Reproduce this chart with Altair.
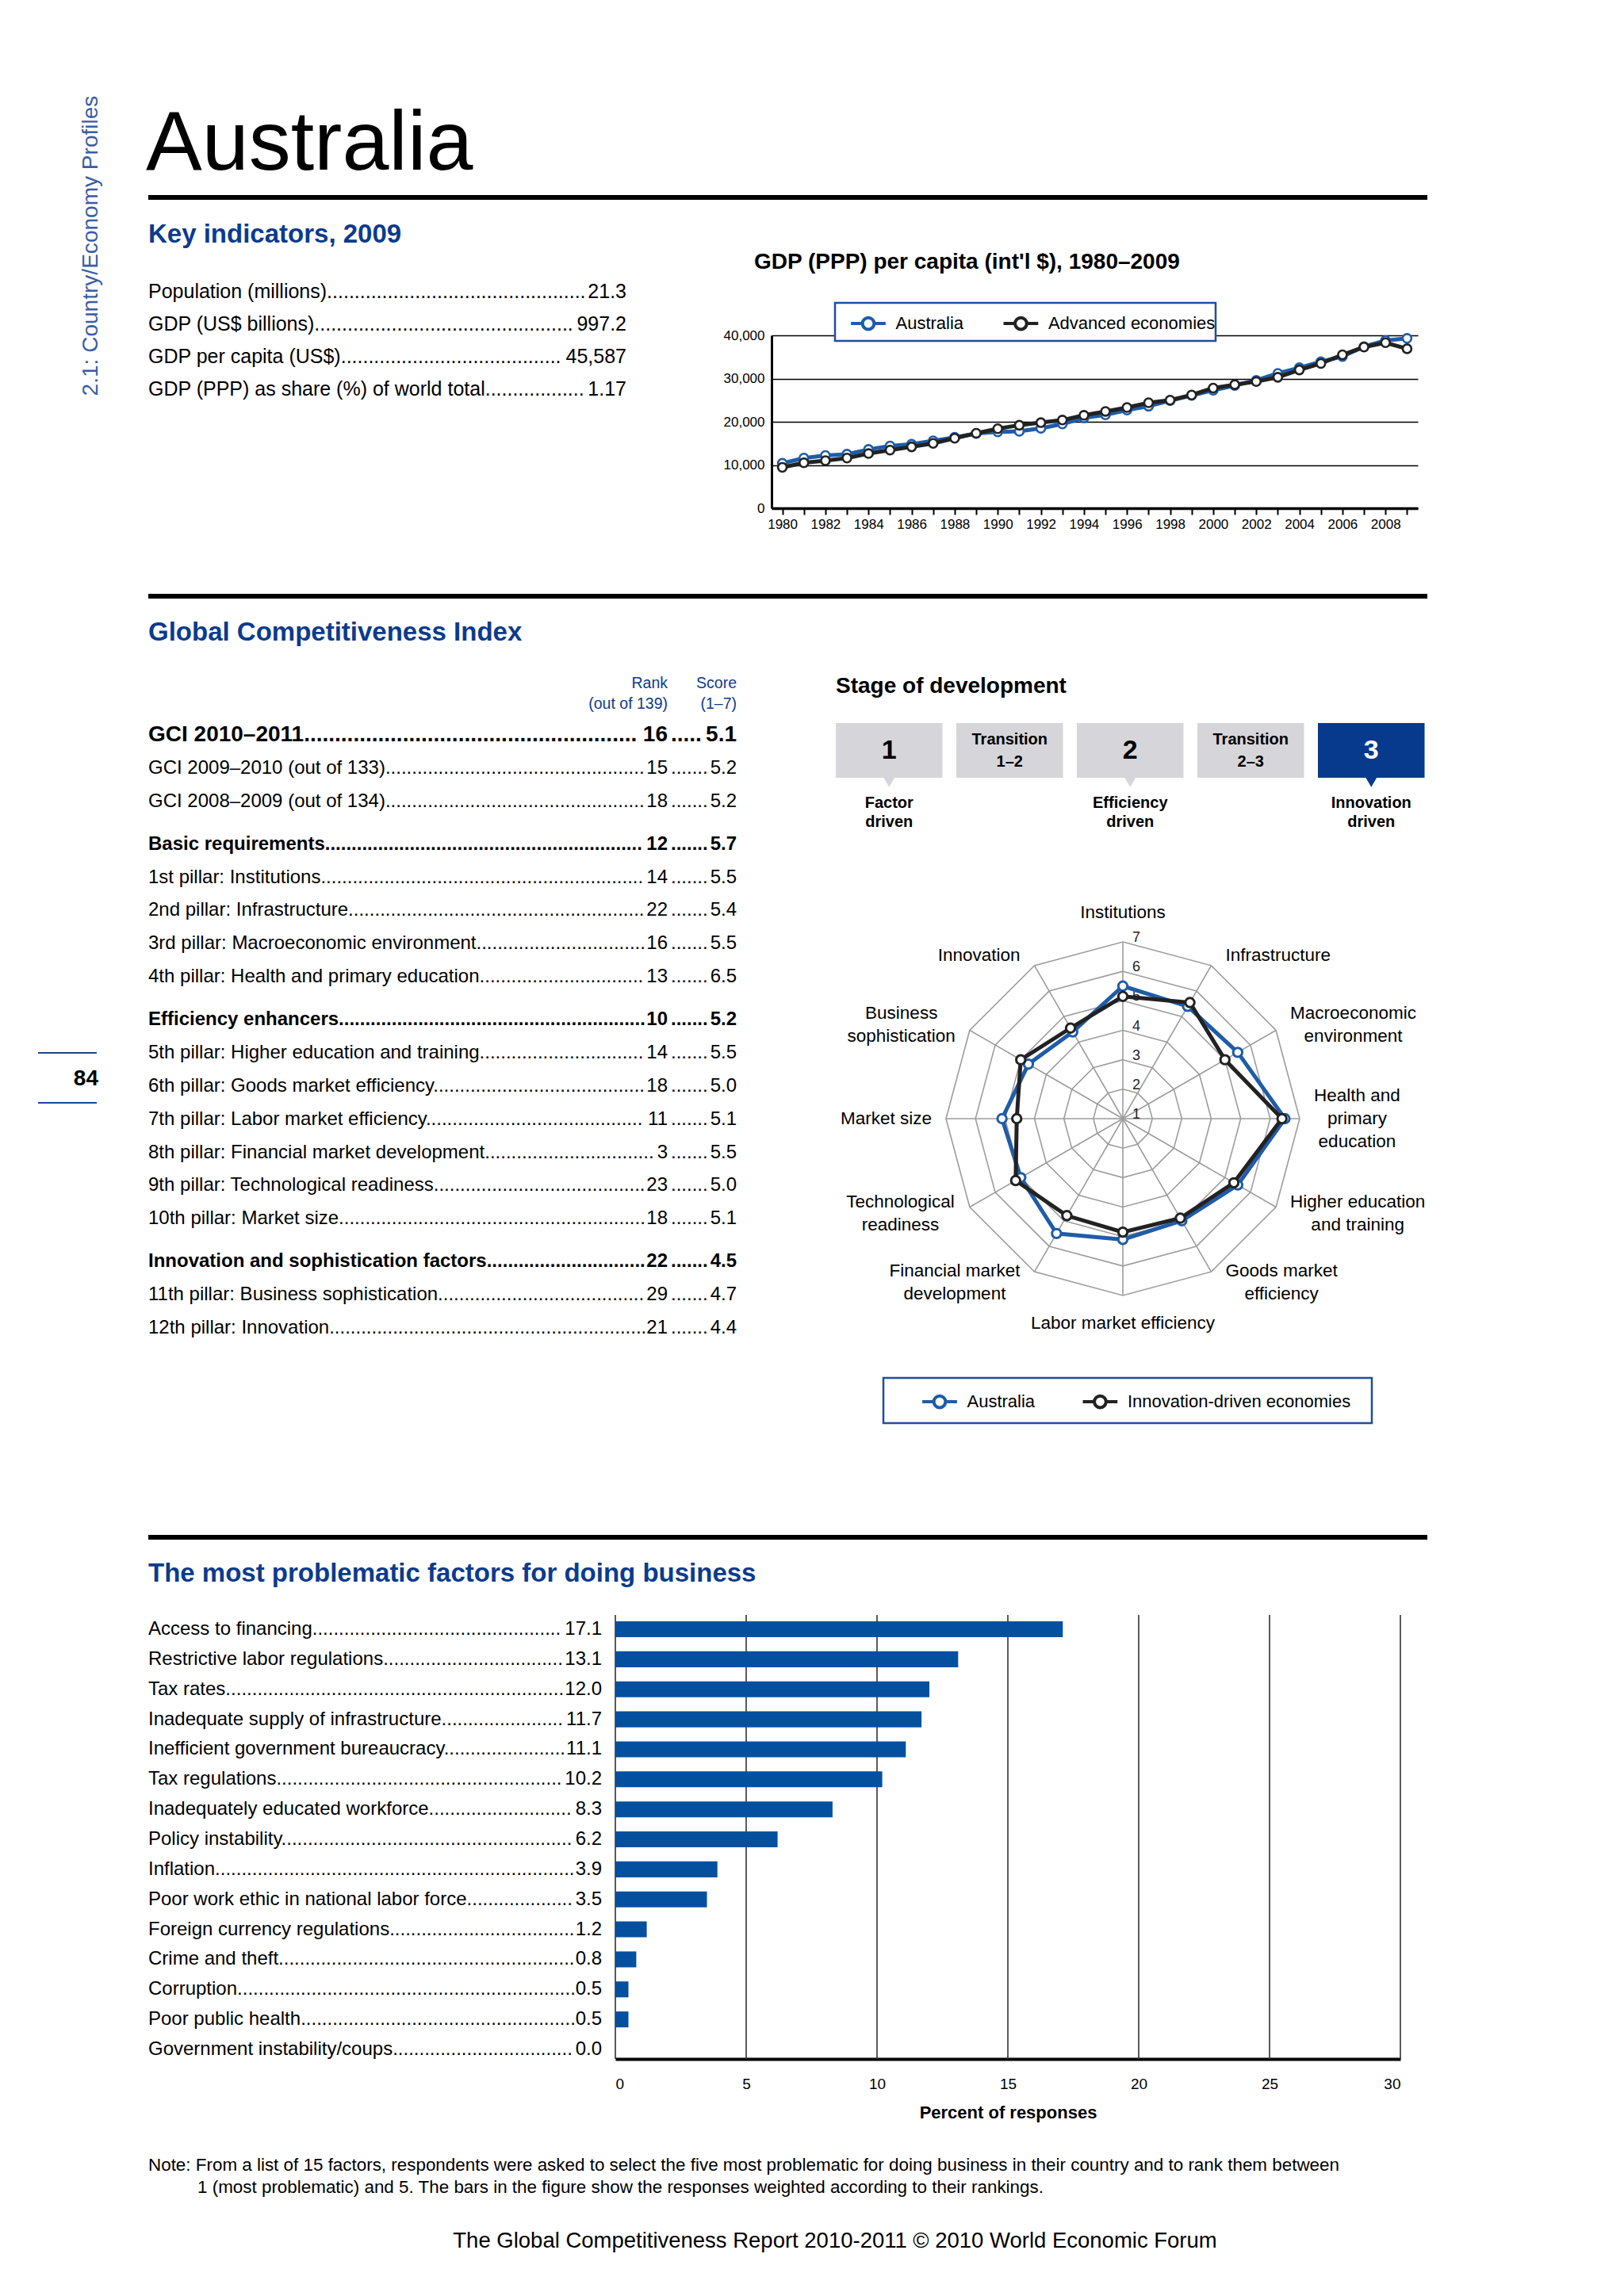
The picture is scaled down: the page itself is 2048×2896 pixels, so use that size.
import altair as alt
import pandas as pd

# ---------------------------------------------------------------- data
ki_labels = ["Population (millions)", "GDP (US$ billions)", "GDP per capita (US$)",
             "GDP (PPP) as share (%) of world total"]
ki_values = ["21.3", "997.2", "45,587", "1.17"]

gdp_years = list(range(1980, 2010))
gdp_australia = [10400, 11600, 12200, 12500, 13600, 14400, 14800, 15600, 16400, 17300,
                 17650, 17800, 18500, 19500, 20900, 21600, 22700, 23600, 24900, 26100,
                 27300, 28400, 29600, 31200, 32500, 33900, 35100, 37400, 38800, 39300]
gdp_advanced = [9450, 10500, 11000, 11600, 12650, 13450, 14200, 15000, 16200, 17350,
                18400, 19200, 19800, 20400, 21500, 22400, 23300, 24400, 25000, 26200,
                27800, 28600, 29300, 30300, 32000, 33500, 35500, 37300, 38300, 36900]
gdp_series = ["Australia", "Advanced economies"]
gdp_ticks = [0, 10000, 20000, 30000, 40000]

gci_labels = ["GCI 2010–2011", "GCI 2009–2010 (out of 133)", "GCI 2008–2009 (out of 134)",
              "Basic requirements", "1st pillar: Institutions", "2nd pillar: Infrastructure",
              "3rd pillar: Macroeconomic environment", "4th pillar: Health and primary education",
              "Efficiency enhancers", "5th pillar: Higher education and training",
              "6th pillar: Goods market efficiency", "7th pillar: Labor market efficiency",
              "8th pillar: Financial market development", "9th pillar: Technological readiness",
              "10th pillar: Market size", "Innovation and sophistication factors",
              "11th pillar: Business sophistication", "12th pillar: Innovation"]
gci_ranks = [16, 15, 18, 12, 14, 22, 16, 13, 10, 14, 18, 11, 3, 23, 18, 22, 29, 21]
gci_scores = [5.1, 5.2, 5.2, 5.7, 5.5, 5.4, 5.5, 6.5, 5.2, 5.5, 5.0, 5.1, 5.5, 5.0, 5.1, 4.5, 4.7, 4.4]
gci_groups = [0, 0, 0, 1, 1, 1, 1, 1, 2, 2, 2, 2, 2, 2, 2, 3, 3, 3]
gci_styles = [0, 2, 2, 1, 2, 2, 2, 2, 1, 2, 2, 2, 2, 2, 2, 1, 2, 2]   # 0 big bold, 1 bold, 2 plain

stage_boxes = ["1", "Transition\n1–2", "2", "Transition\n2–3", "3"]
stage_names = ["Factor\ndriven", "", "Efficiency\ndriven", "", "Innovation\ndriven"]
current_stage = 4

pillar_lines = ["Institutions", "Infrastructure", "Macroeconomic\nenvironment",
                "Health and\nprimary\neducation", "Higher education\nand training",
                "Goods market\nefficiency", "Labor market efficiency",
                "Financial market\ndevelopment", "Technological\nreadiness", "Market size",
                "Business\nsophistication", "Innovation"]
radar_australia = [5.5, 5.4, 5.5, 6.5, 5.5, 5.0, 5.1, 5.5, 5.0, 5.1, 4.7, 4.4]
radar_innovation = [5.15, 5.55, 5.0, 6.4, 5.35, 4.9, 4.85, 4.8, 5.2, 4.6, 5.0, 4.55]
radar_series = ["Australia", "Innovation-driven economies"]
radar_ticks = [1, 2, 3, 4, 5, 6, 7]

factors = ["Access to financing", "Restrictive labor regulations", "Tax rates",
           "Inadequate supply of infrastructure", "Inefficient government bureaucracy",
           "Tax regulations", "Inadequately educated workforce", "Policy instability",
           "Inflation", "Poor work ethic in national labor force", "Foreign currency regulations",
           "Crime and theft", "Corruption", "Poor public health", "Government instability/coups"]
factor_pct = [17.1, 13.1, 12.0, 11.7, 11.1, 10.2, 8.3, 6.2, 3.9, 3.5, 1.2, 0.8, 0.5, 0.5, 0.0]
pct_ticks = [0, 5, 10, 15, 20, 25, 30]

side_text = "2.1: Country/Economy Profiles"
note_lines = ["Note: From a list of 15 factors, respondents were asked to select the five most "
              "problematic for doing business in their country and to rank them between",
              "1 (most problematic) and 5. The bars in the figure show the responses weighted "
              "according to their rankings."]
footer_text = "The Global Competitiveness Report 2010-2011 © 2010 World Economic Forum"

# ---------------------------------------------------------------- style / layout
W, H = 2032, 2880


def C(v):
    return v - 8


FONT = "'Liberation Sans', Arial, sans-serif"
HEAD_BLUE = "#0c3b8d"
SIDE_BLUE = "#3a5da6"
AUS_BLUE = "#1f5ca9"
DARK = "#222222"
BAR_BLUE = "#04509e"
BOX_GRAY = "#d6d6da"
BOX_BLUE = "#073a8c"
GRID_GRAY = "#9d9d9d"

_AW = dict(zip(" !()',-./0123456789:%$–©",
               [278, 278, 333, 333, 191, 278, 333, 278, 278] + [556] * 10 + [278, 889, 556, 556, 737]))
_AW.update(zip("ABCDEFGHIJKLMNOPQRSTUVWXYZ",
               [667, 667, 722, 722, 667, 611, 778, 722, 278, 500, 667, 556, 833, 722, 778, 667,
                778, 722, 667, 611, 722, 667, 944, 667, 667, 611]))
_AW.update(zip("abcdefghijklmnopqrstuvwxyz",
               [556, 556, 500, 556, 556, 278, 556, 556, 222, 222, 500, 222, 833, 556, 556, 556,
                556, 333, 500, 278, 556, 500, 722, 500, 500, 500]))


def tw(s, size):
    """estimated text width (Arial metrics)"""
    return sum(_AW.get(ch, 556) for ch in s) / 1000 * size


one = pd.DataFrame({"k": [0]})


def txt(text, x, y, size, color="#000000", weight="normal", align="left",
        baseline="middle", font=FONT, angle=None, lh=None):
    props = dict(text=text, fontSize=size, color=color, fontWeight=weight, align=align,
                 baseline=baseline, font=font)
    if "\n" in text:
        props["lineBreak"] = "\n"
        props["lineHeight"] = lh or size * 1.1
    if angle is not None:
        props["angle"] = angle
    return alt.Chart(one).mark_text(**props).encode(x=alt.value(C(x)), y=alt.value(C(y)))


def hrule(x1, x2, y, w, color="#000000"):
    return alt.Chart(one).mark_rule(color=color, strokeWidth=w).encode(
        x=alt.value(C(x1)), x2=alt.value(C(x2)), y=alt.value(C(y)))


def box(x1, x2, y1, y2, stroke, w):
    return alt.Chart(one).mark_rect(fill="white", stroke=stroke, strokeWidth=w).encode(
        x=alt.value(C(x1)), x2=alt.value(C(x2)), y=alt.value(C(y1)), y2=alt.value(C(y2)))


DOTS = "." * 260
LEG_PATH = ("M-1.25,0L-0.42,0M0.42,0L1.25,0"
            "M0.42,0A0.42,0.42,0,1,1,-0.42,0A0.42,0.42,0,1,1,0.42,0")
LEG_FS = 22


def legend(x_sym, y_mid, x_sym2, first_label):
    x0 = C(x_sym) - 17.5
    pad = (C(x_sym2) - 17.5) - (x0 + 35 + 15 + tw(first_label, LEG_FS))
    return alt.Legend(title=None, orient="none", legendX=x0, legendY=C(y_mid) - 17.5,
                      direction="horizontal", symbolType=LEG_PATH, symbolSize=1225,
                      symbolStrokeWidth=4, symbolFillColor="white", labelFont=FONT,
                      labelFontSize=LEG_FS, labelColor="#000000", labelOffset=15,
                      columnPadding=pad, padding=0, labelLimit=500, zindex=1)


layers = []

# ---------------------------------------------------------------- page furniture
layers += [
    txt(side_text, 115, 310, 379 / tw(side_text, 1), color=SIDE_BLUE, align="center", angle=270),
    txt("Australia", 184, 214, 106, baseline="alphabetic"),
    hrule(187, 1800, 249, 6),
    txt("Key indicators, 2009", 187, 296, 33, color=HEAD_BLUE, weight="bold"),
    hrule(187, 1800, 752, 6),
    txt("Global Competitiveness Index", 187, 798, 33, color=HEAD_BLUE, weight="bold"),
    hrule(187, 1800, 1939, 6),
    txt("The most problematic factors for doing business", 187, 1985, 33, color=HEAD_BLUE,
        weight="bold"),
    hrule(48, 122, 1328, 2, color="#1d4690"),
    hrule(48, 122, 1391, 2, color="#1d4690"),
    txt("84", 124, 1361, 28, weight="bold", align="right"),
    txt(note_lines[0], 187, 2731, 1503 / tw(note_lines[0], 1)),
    txt(note_lines[1], 249, 2759, 1503 / tw(note_lines[0], 1)),
    txt(footer_text, 1053, 2827, 966 / tw(footer_text, 1), align="center"),
]

# ---------------------------------------------------------------- key indicators
KI_FS = 25
ki_df = pd.DataFrame({"label": ki_labels, "value": ki_values, "i": list(range(len(ki_labels)))})
ki_df["lead"] = ki_df["label"] + DOTS
ki_y = alt.Y("i:Q", scale=alt.Scale(domain=[0, 3], range=[C(368), C(491)]), axis=None)
ki_sub = []
for i, v in enumerate(ki_values):
    lim = (790 - tw(v, KI_FS) + 1) - 187
    ki_sub.append(alt.Chart().transform_filter(f"datum.i == {i}").mark_text(
        align="left", baseline="middle", font=FONT, fontSize=KI_FS, limit=lim, ellipsis=".",
        color="#000000").encode(x=alt.value(C(187)), y=ki_y, text="lead:N"))
ki_sub.append(alt.Chart().mark_text(align="right", baseline="middle", font=FONT, fontSize=KI_FS,
                                    color="#000000").encode(
    x=alt.value(C(790)), y=ki_y, text="value:N"))
layers.append(alt.layer(*ki_sub, data=ki_df))

# ---------------------------------------------------------------- GDP chart
gdp_df = pd.DataFrame({
    "year": gdp_years * 2,
    "value": gdp_australia + gdp_advanced,
    "series": [gdp_series[0]] * len(gdp_years) + [gdp_series[1]] * len(gdp_years),
})
gx = alt.X("year:Q", scale=alt.Scale(domain=[1979.5, 2009.5], range=[C(973), C(1788)],
                                     nice=False, zero=False),
           axis=alt.Axis(orient="bottom", offset=C(641) - H, values=gdp_years,
                         labelExpr="datum.value % 2 == 0 ? datum.label : ''", format="d",
                         labelFont=FONT, labelFontSize=17, labelColor="#000000", labelPadding=4,
                         tickSize=8, tickWidth=2, tickColor="#000000", domainColor="#000000",
                         domainWidth=3.5, grid=False, title=None, labelOverlap=False,
                         labelAngle=0))
gy = alt.Y("value:Q", scale=alt.Scale(domain=[0, 40000], range=[C(641), C(423)], nice=False),
           axis=alt.Axis(orient="left", offset=-C(973), values=gdp_ticks, format=",d",
                         labelFont=FONT, labelFontSize=17, labelColor="#000000", labelPadding=9,
                         ticks=False, domainColor="#000000", domainWidth=3, grid=True,
                         gridColor="#000000", gridWidth=1.3, title=None))
gcol = alt.Scale(domain=gdp_series, range=[AUS_BLUE, DARK])
gleg = legend(1093, 406, 1270, gdp_series[0])
gdp_sub = []
for s in gdp_series:
    gdp_sub.append(alt.Chart().transform_filter(f"datum.series == '{s}'").mark_line(
        strokeWidth=5).encode(color=alt.Color("series:N", scale=gcol, legend=gleg)))
    gdp_sub.append(alt.Chart().transform_filter(f"datum.series == '{s}'").mark_point(
        filled=True, fill="white", size=120, strokeWidth=2.6, opacity=1).encode(
        stroke=alt.Stroke("series:N", scale=gcol, legend=None)))
layers.append(alt.layer(*gdp_sub, data=gdp_df).encode(x=gx, y=gy))
layers += [
    box(1053, 1533, 382, 430, "#1f4e9c", 2.5),
    txt("GDP (PPP) per capita (int'l $), 1980–2009", 951, 331, 28, weight="bold"),
]

# ---------------------------------------------------------------- GCI table
gci_df = pd.DataFrame({"label": gci_labels, "rank": gci_ranks,
                       "score": [f"{s:.1f}" for s in gci_scores],
                       "group": gci_groups, "style": gci_styles,
                       "i": list(range(len(gci_labels)))})
gci_df["slot"] = gci_df["i"] + 0.3 * gci_df["group"]
gci_df["lead"] = gci_df["label"] + DOTS
gy_t = alt.Y("slot:Q", scale=alt.Scale(domain=[0, 17.9], range=[C(927), C(1675)]), axis=None)
STY = {0: (28, "bold"), 1: (24, "bold"), 2: (24, "normal")}
gci_sub = []
for i, r in enumerate(gci_ranks):
    fs, fw = STY[gci_styles[i]]
    lim = (842 - tw(str(r), fs)) - 187
    gci_sub.append(alt.Chart().transform_filter(f"datum.i == {i}").mark_text(
        align="left", baseline="middle", font=FONT, fontSize=fs, fontWeight=fw, limit=lim,
        ellipsis=".", color="#000000").encode(x=alt.value(C(187)), y=gy_t, text="lead:N"))
for st, (fs, fw) in STY.items():
    base = alt.Chart().transform_filter(f"datum.style == {st}")
    slim = (929 - tw("5.1", fs) + 1) - (842 + 4)
    gci_sub += [
        base.mark_text(align="right", baseline="middle", font=FONT, fontSize=fs, fontWeight=fw,
                       color="#000000").encode(x=alt.value(C(842)), y=gy_t, text="rank:N"),
        base.mark_text(align="left", baseline="middle", font=FONT, fontSize=fs, fontWeight=fw,
                       limit=slim, ellipsis=".", color="#000000", text=DOTS[:40]).encode(
            x=alt.value(C(846)), y=gy_t),
        base.mark_text(align="right", baseline="middle", font=FONT, fontSize=fs, fontWeight=fw,
                       color="#000000").encode(x=alt.value(C(929)), y=gy_t, text="score:N"),
    ]
layers.append(alt.layer(*gci_sub, data=gci_df))
layers += [
    txt("Rank\n(out of 139)", 842, 862, 19.5, color=HEAD_BLUE, align="right", lh=26),
    txt("Score\n(1–7)", 929, 862, 19.5, color=HEAD_BLUE, align="right", lh=26),
]

# ---------------------------------------------------------------- stage of development
stage_df = pd.DataFrame({"i": list(range(len(stage_boxes))), "box": stage_boxes,
                         "name": stage_names})
sx = alt.Scale(domain=[0, 5], range=[C(1054), C(1054) + 760])
cur = f"datum.i == {current_stage}"
sbase = alt.Chart().transform_calculate(x2="datum.i + 0.885", c="datum.i + 0.4425")
stage_sub = [
    sbase.mark_rect().encode(
        x=alt.X("i:Q", scale=sx, axis=None), x2="x2:Q",
        y=alt.value(C(912)), y2=alt.value(C(981)),
        color=alt.condition(cur, alt.value(BOX_BLUE), alt.value(BOX_GRAY))),
    sbase.transform_filter("datum.name != ''").mark_point(
        shape="triangle-down", filled=True, size=330, opacity=1).encode(
        x=alt.X("c:Q", scale=sx, axis=None), y=alt.value(C(985)),
        color=alt.condition(cur, alt.value(BOX_BLUE), alt.value(BOX_GRAY))),
    sbase.transform_filter("length(datum.box) == 1").mark_text(
        font=FONT, fontSize=34, fontWeight="bold", baseline="middle").encode(
        x=alt.X("c:Q", scale=sx, axis=None), y=alt.value(C(947)), text="box:N",
        color=alt.condition(cur, alt.value("#ffffff"), alt.value("#000000"))),
    sbase.transform_filter("length(datum.box) > 1").mark_text(
        font=FONT, fontSize=20, fontWeight="bold", baseline="middle", lineBreak="\n",
        lineHeight=28).encode(
        x=alt.X("c:Q", scale=sx, axis=None), y=alt.value(C(933)), text="box:N",
        color=alt.condition(cur, alt.value("#ffffff"), alt.value("#000000"))),
    sbase.transform_filter("datum.name != ''").mark_text(
        font=FONT, fontSize=20, fontWeight="bold", baseline="middle", lineBreak="\n",
        lineHeight=24, color="#000000").encode(
        x=alt.X("c:Q", scale=sx, axis=None), y=alt.value(C(1013)), text="name:N"),
]
layers.append(alt.layer(*stage_sub, data=stage_df))
layers.append(txt("Stage of development", 1054, 866, 28, weight="bold"))

# ---------------------------------------------------------------- radar
CX, CY, R = 1416, 1411, 223
LAB_FS, LAB_LH = 22.5, 29
rx = alt.Scale(domain=[-1, 1], range=[C(CX - R), C(CX + R)], nice=False, zero=False)
ry = alt.Scale(domain=[-1, 1], range=[C(CY + R), C(CY - R)], nice=False, zero=False)
n_p = len(pillar_lines)
rad_df = pd.DataFrame({
    "idx": list(range(n_p)) * 2,
    "v": radar_australia + radar_innovation,
    "series": [radar_series[0]] * n_p + [radar_series[1]] * n_p,
})
ring_df = pd.DataFrame([{"idx": k, "v": t} for t in radar_ticks[1:] for k in range(n_p)])
spoke_df = pd.DataFrame({"idx": list(range(n_p)), "v": [radar_ticks[-1]] * n_p})
tick_df = pd.DataFrame({"idx": [0] * len(radar_ticks), "v": radar_ticks})
lab_df = pd.DataFrame({"idx": list(range(n_p)), "text": pillar_lines, "v": [radar_ticks[-1]] * n_p,
                       "hw": [max(tw(l, LAB_FS) for l in t.split("\n")) / 2 for t in pillar_lines],
                       "nl": [len(t.split("\n")) for t in pillar_lines]})


def polar(ch):
    return (ch.transform_calculate(ang="datum.idx * PI / 6")
              .transform_calculate(rr="(datum.v - 1) / 6")
              .transform_calculate(px="datum.rr * sin(datum.ang)")
              .transform_calculate(py="datum.rr * cos(datum.ang)")
              .transform_calculate(zx="0")
              .transform_calculate(zy="0"))


PX = alt.X("px:Q", scale=rx, axis=None)
PY = alt.Y("py:Q", scale=ry, axis=None)
rcol = alt.Scale(domain=radar_series, range=[AUS_BLUE, DARK])
rleg = legend(1183, 1766, 1370, radar_series[0])
radar_sub = [
    polar(alt.Chart(ring_df)).mark_line(interpolate="linear-closed", color=GRID_GRAY,
                                        strokeWidth=1.6).encode(
        x=PX, y=PY, detail="v:N", order="idx:Q"),
    polar(alt.Chart(spoke_df)).mark_rule(color=GRID_GRAY, strokeWidth=1.6).encode(
        x=alt.X("zx:Q", scale=rx, axis=None), y=alt.Y("zy:Q", scale=ry, axis=None),
        x2="px:Q", y2="py:Q"),
    polar(alt.Chart(tick_df)).mark_text(font=FONT, fontSize=18, dx=17, dy=-5,
                                        color="#222222").encode(
        x=alt.X("zx:Q", scale=rx, axis=None), y=PY, text="v:Q"),
]
for s in radar_series:
    radar_sub.append(polar(alt.Chart(rad_df)).transform_filter(f"datum.series == '{s}'").mark_line(
        interpolate="linear-closed", strokeWidth=5).encode(
        x=PX, y=PY, order="idx:Q", color=alt.Color("series:N", scale=rcol, legend=rleg)))
    radar_sub.append(polar(alt.Chart(rad_df)).transform_filter(f"datum.series == '{s}'").mark_point(
        filled=True, fill="white", size=130, strokeWidth=3, opacity=1).encode(
        x=PX, y=PY, stroke=alt.Stroke("series:N", scale=rcol, legend=None)))
radar_sub.append(
    polar(alt.Chart(lab_df))
    .transform_calculate(sx="sin(datum.ang)", cy="cos(datum.ang)")
    .transform_calculate(
        lx=f"datum.sx + (abs(datum.sx) > 0.01 ? (datum.sx > 0 ? 1 : -1) * (18 + datum.hw) / {R} : 0)")
    .transform_calculate(
        ly=f"datum.cy + ((abs(datum.sx) > 0.01 ? datum.cy * 15 : (datum.cy > 0 ? 37 : -35))"
           f" + (datum.nl - 1) * {LAB_LH} / 2) / {R}")
    .mark_text(font=FONT, fontSize=LAB_FS, lineBreak="\n", lineHeight=LAB_LH, align="center",
               baseline="middle", color="#000000")
    .encode(x=alt.X("lx:Q", scale=rx, axis=None), y=alt.Y("ly:Q", scale=ry, axis=None),
            text="text:N"))
layers.append(alt.layer(*radar_sub))
layers.append(box(1114, 1730, 1738, 1795, "#1f4e9c", 2.5))

# ---------------------------------------------------------------- problematic factors
BAR_FS = 24
bar_df = pd.DataFrame({"factor": factors, "pct": factor_pct,
                       "val": [f"{p:.1f}" for p in factor_pct]})
bar_df["lead"] = bar_df["factor"] + DOTS
by = alt.Y("factor:N", sort=factors,
           scale=alt.Scale(range=[C(2036), C(2597)], paddingInner=0.47, paddingOuter=0.145,
                           align=0.82), axis=None)
bscale = alt.Scale(domain=[0, 30], range=[C(776), C(1766)], nice=False)
baxis = alt.Axis(orient="bottom", offset=C(2597) - H, values=pct_ticks, format="d",
                 grid=False, ticks=False,
                 domainColor="#000000", domainWidth=4, labelFont=FONT,
                 labelFontSize=19, labelPadding=22, labelColor="#000000",
                 title="Percent of responses", titleFont=FONT, titleFontSize=22,
                 titleFontWeight="bold", titleColor="#000000", titlePadding=16)
grid_df = pd.DataFrame({"pct": pct_ticks})
bar_sub = [
    alt.Chart(grid_df).mark_rule(color="#333333", strokeWidth=1.6).encode(
        x=alt.X("pct:Q", scale=bscale, axis=baxis), y=alt.value(C(2037)), y2=alt.value(C(2597))),
    alt.Chart(bar_df).mark_bar(color=BAR_BLUE).encode(
        x=alt.X("pct:Q", scale=bscale, axis=baxis), y=by),
]
for cond, sample in (("datum.pct >= 10", "17.1"), ("datum.pct < 10", "8.3")):
    lim = (759 - tw(sample, BAR_FS) + 1) - 187
    bar_sub.append(alt.Chart(bar_df).transform_filter(cond).mark_text(
        align="left", baseline="middle", font=FONT, fontSize=BAR_FS, limit=lim, ellipsis=".",
        color="#000000").encode(x=alt.value(C(187)), y=by, text="lead:N"))
bar_sub.append(alt.Chart(bar_df).mark_text(align="right", baseline="middle", font=FONT,
                                           fontSize=BAR_FS, color="#000000").encode(
    x=alt.value(C(759)), y=by, text="val:N"))
layers.append(alt.layer(*bar_sub))

# ---------------------------------------------------------------- assemble
chart = (
    alt.layer(*layers)
    .resolve_scale(x="independent", y="independent", color="independent",
                   stroke="independent")
    .properties(width=W, height=H, padding=0, background="white",
                autosize=alt.AutoSizeParams(type="none"))
    .configure_view(stroke=None)
)
chart.save("out.html", embed_options={"renderer": "svg", "actions": False})
